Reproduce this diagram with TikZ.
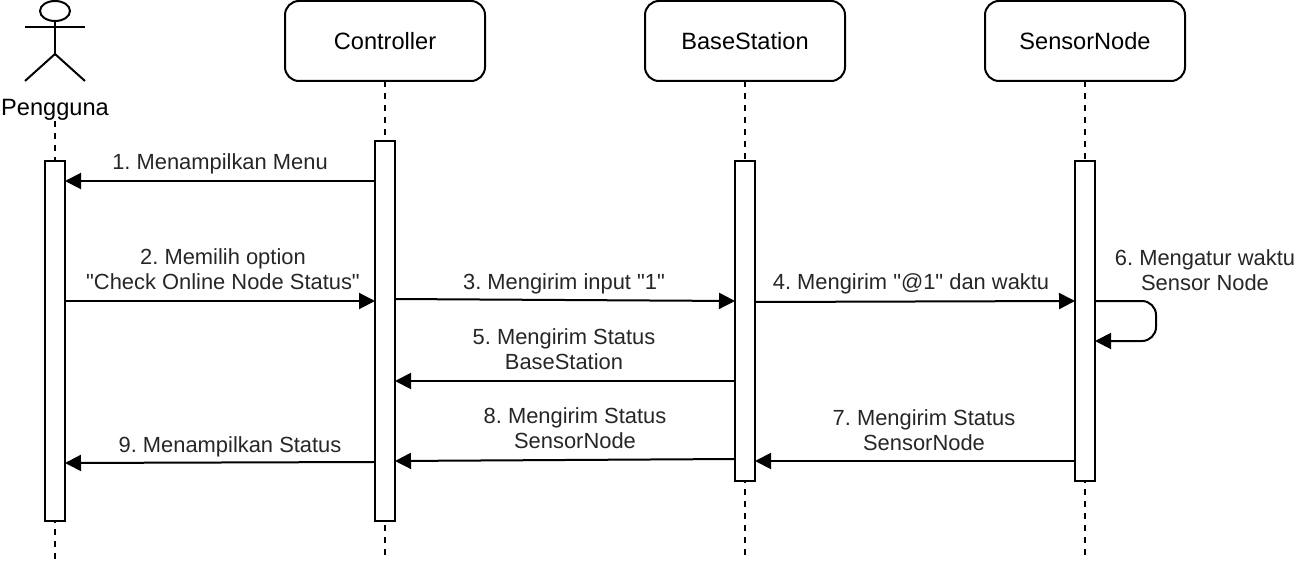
\documentclass[tikz,border=0pt]{standalone}
\usepackage{fontspec}
\setmainfont{Liberation Sans}[Ligatures=TeXOff]
\usetikzlibrary{arrows.meta,shapes.geometric}
\frenchspacing

\begin{document}
\begin{tikzpicture}[x=1pt,y=-1pt,line width=2pt,
    head/.style={shape=rectangle,rounded corners=14pt,draw=black,minimum width=200pt,minimum height=80pt,inner sep=0pt,outer sep=0pt,font=\fontsize{23.6}{25}\selectfont},
    bar/.style={shape=rectangle,draw=black,fill=white,minimum width=20pt,inner sep=0pt,outer sep=0pt},
    lifeline/.style={dash pattern=on 6pt off 6pt},
    msg/.style={-{Triangle[length=16pt,width=16pt]}},
    lbl/.style={align=center,inner sep=0pt,text=black!85,font=\fontsize{21.9}{25.5}\selectfont}]
    \useasboundingbox (0,0) rectangle (1300,564);

    % actor
    \node[shape=ellipse,draw=black,minimum width=30pt,minimum height=20pt,inner sep=0pt,outer sep=0pt] (Head) at (55,11) {};
    \coordinate (ArmL) at (25,27);
    \coordinate (ArmR) at (85,27);
    \coordinate (Hip) at (55,54);
    \coordinate (FootL) at (25,81);
    \coordinate (FootR) at (85,81);
    \path [-](Head) edge (Hip);
    \path [-](ArmL) edge (ArmR);
    \path [-](Hip) edge (FootL);
    \path [-](Hip) edge (FootR);
    \node[inner sep=0pt,font=\fontsize{23.6}{25}\selectfont] (Pengguna) at (55,110) {Pengguna};

    % heads
    \node[head] (Controller) at (385,41) {Controller};
    \node[head] (BaseStation) at (745,41) {BaseStation};
    \node[head] (SensorNode) at (1085,41) {SensorNode};

    % lifelines
    \coordinate (PenggunaTop) at (55,121);
    \coordinate (PenggunaEnd) at (55,561);
    \coordinate (ControllerEnd) at (385,555);
    \coordinate (BaseEnd) at (745,555);
    \coordinate (SensorEnd) at (1085,555);
    \path [-,lifeline](PenggunaTop) edge (PenggunaEnd);
    \path [-,lifeline](Controller) edge (ControllerEnd);
    \path [-,lifeline](BaseStation) edge (BaseEnd);
    \path [-,lifeline](SensorNode) edge (SensorEnd);

    % activations
    \node[bar,minimum height=360pt] (PenggunaBar) at (55,341) {};
    \node[bar,minimum height=380pt] (ControllerBar) at (385,331) {};
    \node[bar,minimum height=320pt] (BaseBar) at (745,321) {};
    \node[bar,minimum height=320pt] (SensorBar) at (1085,321) {};

    % messages
    \coordinate (m1a) at (375,181);
    \coordinate (m1b) at (65,181);
    \coordinate (m2a) at (65,301);
    \coordinate (m2b) at (375,301);
    \coordinate (m3a) at (395,299);
    \coordinate (m3b) at (735,301);
    \coordinate (m4a) at (755,302);
    \coordinate (m4b) at (1075,301);
    \coordinate (m5a) at (735,381);
    \coordinate (m5b) at (395,381);
    \coordinate (m6a) at (1095,301);
    \coordinate (m6b) at (1095,341);
    \coordinate (m7a) at (1075,461);
    \coordinate (m7b) at (755,461);
    \coordinate (m8a) at (735,459);
    \coordinate (m8b) at (395,461);
    \coordinate (m9a) at (375,462);
    \coordinate (m9b) at (65,463);
    \path [msg](m1a) edge (m1b);
    \path [msg](m2a) edge (m2b);
    \path [msg](m3a) edge (m3b);
    \path [msg](m4a) edge (m4b);
    \path [msg](m5a) edge (m5b);
    \draw [msg,rounded corners=14pt](m6a) -- (1156,301) -- (1156,341) -- (m6b);
    \path [msg](m7a) edge (m7b);
    \path [msg](m8a) edge (m8b);
    \path [msg](m9a) edge (m9b);

    % labels
    \node[lbl] (l1) at (220,164) {1. Menampilkan Menu};
    \node[lbl] (l2) at (223,269) {2. Memilih option\\"Check Online Node Status"};
    \node[lbl] (l3) at (564,284) {3. Mengirim input "1"};
    \node[lbl] (l4) at (911,284) {4. Mengirim "@1" dan waktu};
    \node[lbl] (l5) at (564,349) {5. Mengirim Status\\BaseStation};
    \node[lbl] (l6) at (1205,270) {6. Mengatur waktu\\Sensor Node};
    \node[lbl] (l7) at (924,430) {7. Mengirim Status\\SensorNode};
    \node[lbl] (l8) at (575,428) {8. Mengirim Status\\SensorNode};
    \node[lbl] (l9) at (230,447) {9. Menampilkan Status};
\end{tikzpicture}
\end{document}
